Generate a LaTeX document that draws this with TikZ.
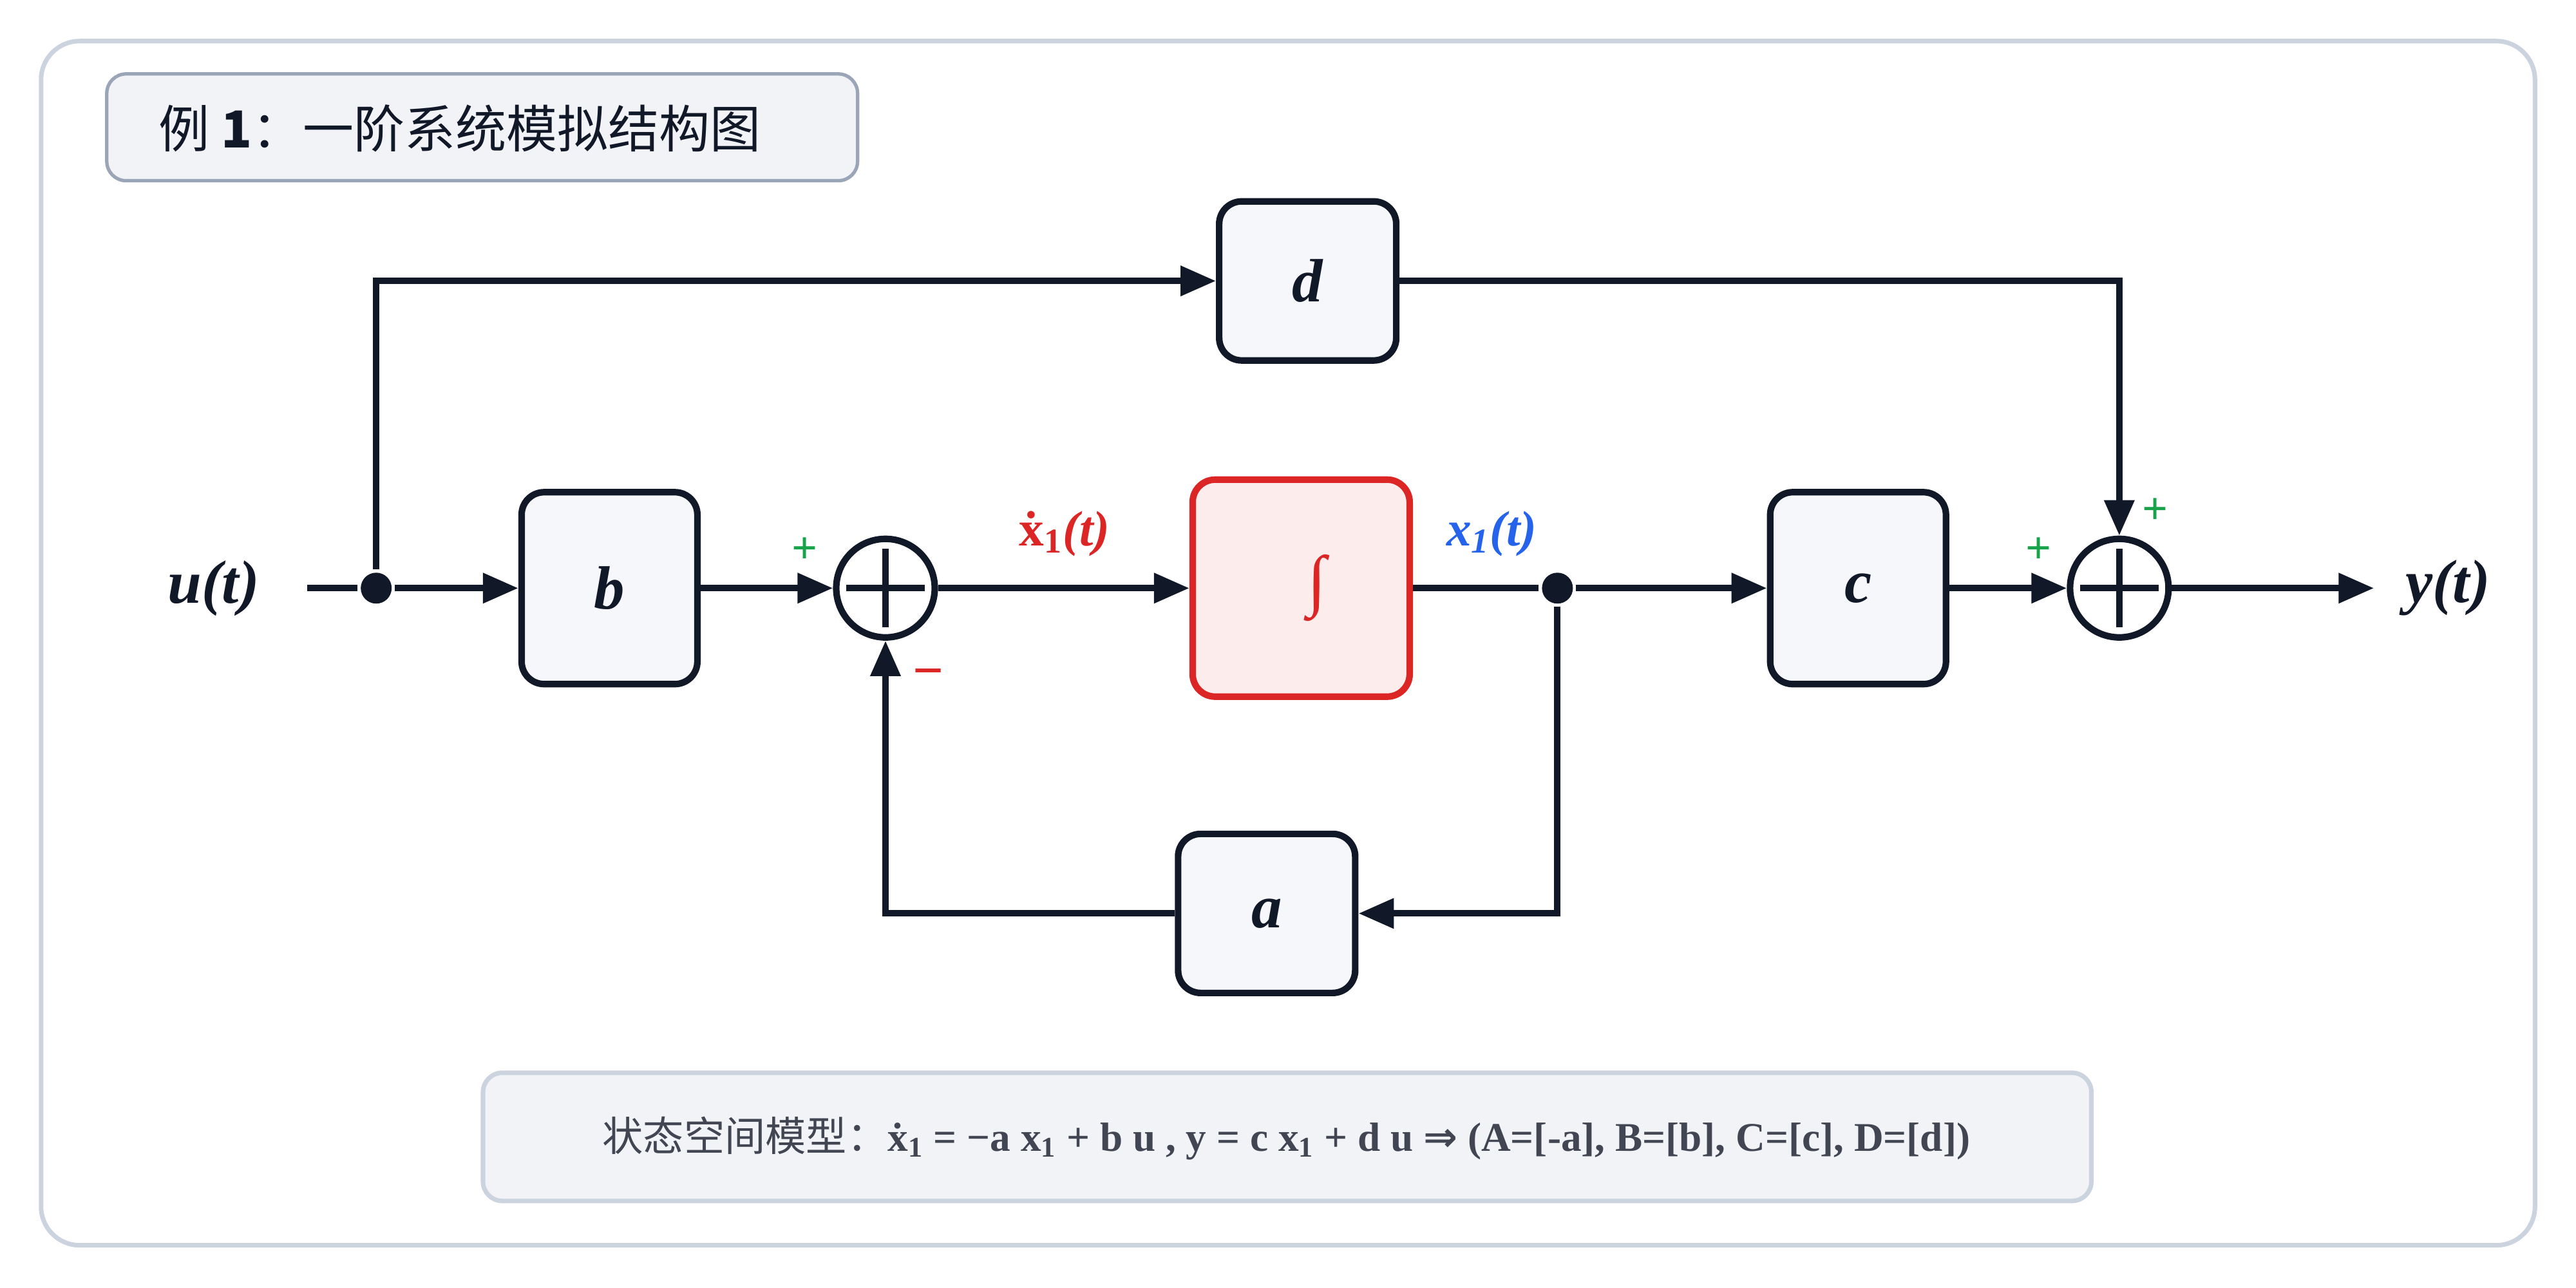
\documentclass[tikz,border=0pt]{standalone}
\usepackage{fontspec}
\setmainfont{Liberation Serif}
\newfontfamily\cjk{Noto Sans CJK SC}
\newfontfamily\symfont{DejaVu Sans}
\usetikzlibrary{arrows.meta,positioning,calc}
\definecolor{ink}{HTML}{111827}
\definecolor{frame}{HTML}{CBD3DF}
\definecolor{boxfill}{HTML}{F5F7FA}
\definecolor{tagfill}{HTML}{F1F3F7}
\definecolor{tagline}{HTML}{9AA5B8}
\definecolor{intred}{HTML}{DC2626}
\definecolor{intfill}{HTML}{FDECEC}
\definecolor{xblue}{HTML}{2563EB}
\definecolor{plusgreen}{HTML}{16A34A}
\begin{document}
\begin{tikzpicture}
[x=0.02551cm, y=-0.02551cm, line width=2.9pt, draw=ink, >={Triangle[length=0.55cm,width=0.45cm]},
block/.style={rectangle, draw=ink, fill=boxfill, rounded corners=0.35cm, line width=2.9pt, minimum width=2.73cm, minimum height=2.98cm, font=\fontsize{27}{30}\selectfont\bfseries\itshape, text=ink},
small/.style={block, minimum height=2.47cm, minimum width=2.75cm},
summer/.style={circle, draw=ink, fill=white, line width=2.9pt, minimum size=1.53cm, inner sep=0pt},
dot/.style={circle, fill=ink, inner sep=0pt, minimum size=0.48cm},
sig/.style={font=\fontsize{27}{30}\selectfont\bfseries\itshape, text=ink},
plus/.style={text=plusgreen, font=\fontsize{20}{22}\selectfont\bfseries},
tag/.style={rectangle, draw=tagline, fill=tagfill, rounded corners=0.3cm, line width=1.5pt}]

% frame and title
\draw[draw=frame, fill=white, line width=2pt, rounded corners=0.6cm] (25,25) rectangle (1543,758);
\useasboundingbox (0,0) rectangle (1568,784);
\draw[tag] (65,45) rectangle (522,110);
\node[anchor=west, text=ink, font=\cjk\fontsize{22.5}{26}\selectfont] (title) at (90,78) {例 \textbf{1}：一阶系统模拟结构图};

% blocks
\node[sig] (u) at (130,358) {u(t)};
\node[block] (b) at (371,358) {b};
\node[summer] (s1) at (539,358) {};
\node[block, draw=intred, fill=intfill, minimum width=3.37cm, minimum height=3.37cm, text=intred, font=\fontsize{30}{34}\selectfont] (int) at (792,358) {\hspace{0.5cm}∫};
\node[block] (c) at (1131,358) {c};
\node[summer] (s2) at (1290,358) {};
\node[sig] (y) at (1490,358) {y(t)};
\node[small] (d) at (796,171) {d};
\node[small] (a) at (771,556) {a};
\node[dot] (j1) at (229,358) {};
\node[dot] (j2) at (948,358) {};
\coordinate (start) at (187,358);
\coordinate (out) at (1445,358);

% plus signs in the summers
\foreach \s in {s1,s2}{
  \draw ($(\s.west)+(8,0)$) -- ($(\s.east)+(-8,0)$);
  \draw ($(\s.north)+(0,8)$) -- ($(\s.south)+(0,-8)$);
}

% connectors
\draw (start) -- (j1);
\draw[->] (j1) -- (b);
\draw[->] (b) -- (s1);
\draw[->] (s1) -- (int);
\draw (int) -- (j2);
\draw[->] (j2) -- (c);
\draw[->] (c) -- (s2);
\draw[->] (s2) -- (out);
\draw[->] (j1) |- (d);
\draw[->] (d) -| (s2);
\draw[->] (j2) |- (a);
\draw[->] (a) -| (s1);

% labels
\node[text=intred, font=\fontsize{22}{26}\selectfont\bfseries] (xd) at (648,325) {\.x\textsubscript{1}\textit{(t)}};
\node[text=xblue, font=\fontsize{22}{26}\selectfont\bfseries\itshape] (x1) at (908,325) {x\textsubscript{1}(t)};
\node[plus] (p1) at (490,335) {+};
\node[text=intred, font=\fontsize{24}{26}\selectfont\bfseries] (m1) at (565,413) {−};
\node[plus] (p2) at (1241,335) {+};
\node[plus] (p3) at (1312,311) {+};

% model summary
\draw[tag, draw=frame, line width=2pt] (294,653) rectangle (1273,731);
\node[text=ink!80, font=\fontsize{18}{22}\selectfont] (model) at (783,693)
  {{\cjk 状态空间模型：}\textbf{\.x\textsubscript{1} = −a x\textsubscript{1} + b u , y = c x\textsubscript{1} + d u {\symfont ⇒} (A=[-a], B=[b], C=[c], D=[d])}};
\end{tikzpicture}
\end{document}
